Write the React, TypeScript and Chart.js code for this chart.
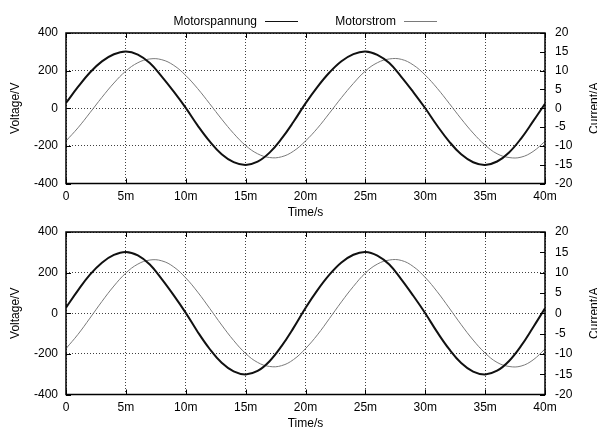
import { useEffect, useRef } from 'react';
import { Chart, registerables } from 'chart.js';

Chart.register(...registerables);

const TIME_MS = [0, 1, 2, 3, 4, 5, 6, 7, 8, 9, 10, 11, 12, 13, 14, 15, 16, 17, 18, 19, 20, 21, 22, 23, 24, 25, 26, 27, 28, 29, 30, 31, 32, 33, 34, 35, 36, 37, 38, 39, 40];

const VOLTAGE_V = [28, 113, 190, 249, 287, 302, 285, 240, 168, 88, 2, -92, -176, -244, -286, -301, -284, -236, -162, -72, 26, 114, 190, 250, 288, 302, 284, 240, 167, 86, 0, -93, -177, -245, -287, -301, -283, -235, -161, -70, 24];

const CURRENT_A = [-8.7, -5.2, -1.2, 2.9, 6.7, 9.9, 12.1, 13.1, 12.9, 11.4, 8.7, 5.2, 1.2, -2.9, -6.7, -9.9, -12.1, -13.1, -12.9, -11.4, -8.7, -5.3, -1.3, 2.8, 6.6, 9.9, 12.1, 13.1, 13.0, 11.5, 8.8, 5.3, 1.3, -2.8, -6.6, -9.8, -12.1, -13.1, -13.0, -11.5, -8.8];

const X_TICK_LABELS = ['0', '5m', '10m', '15m', '20m', '25m', '30m', '35m', '40m'];
const SERIES_NAMES = ['Motorspannung', 'Motorstrom'];
const SERIES_COLORS = ['#111111', '#7a7a7a'];
const X_TITLE = 'Time/s';
const Y_TITLE = 'Voltage/V';
const Y2_TITLE = 'Current/A';

const FONT = '"Liberation Sans", Arial, Helvetica, sans-serif';
const W = 597;
const H_TOP = 224;
const H_BOT = 214;
const BOT_OFFSET = 214;

function decorPlugin(showLegend: boolean) {
  return {
    id: 'decor' + (showLegend ? 'L' : ''),
    afterDraw(chart: any) {
      const { ctx, chartArea: a, scales } = chart;
      ctx.save();
      const px = (v: number) => Math.round(v) + 0.5;
      ctx.strokeStyle = '#000';
      ctx.lineWidth = 1;
      ctx.beginPath();
      scales.x.ticks.forEach((t: any) => {
        const x = px(scales.x.getPixelForValue(t.value));
        ctx.moveTo(x, a.bottom);
        ctx.lineTo(x, a.bottom - 5);
        ctx.moveTo(x, a.top);
        ctx.lineTo(x, a.top + 5);
      });
      scales.y.ticks.forEach((t: any) => {
        const y = px(scales.y.getPixelForValue(t.value));
        ctx.moveTo(a.left, y);
        ctx.lineTo(a.left + 5, y);
      });
      scales.y2.ticks.forEach((t: any) => {
        const y = px(scales.y2.getPixelForValue(t.value));
        ctx.moveTo(a.right, y);
        ctx.lineTo(a.right - 5, y);
      });
      ctx.stroke();
      ctx.lineWidth = 1.5;
      ctx.strokeRect(a.left, a.top, a.right - a.left, a.bottom - a.top);

      ctx.fillStyle = '#000';
      ctx.font = '12px ' + FONT;
      ctx.textAlign = 'center';
      ctx.textBaseline = 'middle';
      ctx.fillText(X_TITLE, (a.left + a.right) / 2, a.bottom + 29.5);
      const cy = (a.top + a.bottom) / 2;
      ctx.save();
      ctx.translate(16, cy);
      ctx.rotate(-Math.PI / 2);
      ctx.fillText(Y_TITLE, 0, 0);
      ctx.restore();
      ctx.save();
      ctx.translate(595, cy);
      ctx.rotate(-Math.PI / 2);
      ctx.fillText(Y2_TITLE, 0, 0);
      ctx.restore();

      if (showLegend) {
        const entries = [
          { textRight: 257, lineFrom: 265, lineTo: 298 },
          { textRight: 396, lineFrom: 404, lineTo: 437 },
        ];
        ctx.textAlign = 'right';
        entries.forEach((e, i) => {
          ctx.fillStyle = '#000';
          ctx.fillText(chart.data.datasets[i].label, e.textRight, 21.5);
          ctx.strokeStyle = chart.data.datasets[i].borderColor;
          ctx.lineWidth = 1;
          ctx.beginPath();
          ctx.moveTo(e.lineFrom, 21.5);
          ctx.lineTo(e.lineTo, 21.5);
          ctx.stroke();
        });
      }
      ctx.restore();
    },
  };
}

function makeChart(canvas: HTMLCanvasElement, padTop: number, xHeight: number, showLegend: boolean) {
  const gridColor = 'rgba(0,0,0,0.75)';
  return new Chart(canvas, {
    type: 'line',
    data: {
      datasets: [
        {
          label: SERIES_NAMES[0],
          data: TIME_MS.map((t, i) => ({ x: t, y: VOLTAGE_V[i] })),
          borderColor: SERIES_COLORS[0],
          borderWidth: 2,
          yAxisID: 'y',
          pointRadius: 0,
          tension: 0.4,
        },
        {
          label: SERIES_NAMES[1],
          data: TIME_MS.map((t, i) => ({ x: t, y: CURRENT_A[i] })),
          borderColor: SERIES_COLORS[1],
          borderWidth: 1,
          yAxisID: 'y2',
          pointRadius: 0,
          tension: 0.4,
        },
      ],
    },
    options: {
      responsive: false,
      animation: false,
      events: [],
      layout: { padding: { top: padTop, left: 0, right: 0, bottom: 0 } },
      plugins: { legend: { display: false }, tooltip: { enabled: false }, title: { display: false } },
      scales: {
        x: {
          type: 'linear',
          min: 0,
          max: 40,
          afterFit: (s: any) => { s.height = xHeight; },
          ticks: {
            stepSize: 5,
            padding: 6,
            autoSkip: false,
            maxRotation: 0,
            color: '#000',
            font: { family: FONT, size: 12 },
            callback: (v: any) => X_TICK_LABELS[Math.round(Number(v) / 5)],
          },
          grid: { color: gridColor, lineWidth: 1, drawTicks: false },
          border: { display: false, dash: [1, 2] },
        },
        y: {
          position: 'left',
          min: -400,
          max: 400,
          afterFit: (s: any) => { s.width = 66; },
          ticks: { stepSize: 200, padding: 8, color: '#000', font: { family: FONT, size: 12 } },
          grid: { color: gridColor, lineWidth: 1, drawTicks: false },
          border: { display: false, dash: [1, 2] },
        },
        y2: {
          position: 'right',
          min: -20,
          max: 20,
          afterFit: (s: any) => { s.width = W - 545; },
          ticks: { stepSize: 5, padding: 10, color: '#000', font: { family: FONT, size: 12 } },
          grid: { drawOnChartArea: false, drawTicks: false },
          border: { display: false },
        },
      },
    } as any,
    plugins: [decorPlugin(showLegend)],
  });
}

export default function App() {
  const topRef = useRef<HTMLCanvasElement>(null);
  const botRef = useRef<HTMLCanvasElement>(null);

  useEffect(() => {
    const c1 = makeChart(topRef.current!, 33, H_TOP - 183.5, true);
    const c2 = makeChart(botRef.current!, 232 - BOT_OFFSET, H_BOT - (394.5 - BOT_OFFSET), false);
    return () => {
      c1.destroy();
      c2.destroy();
    };
  }, []);

  return (
    <div style={{ position: 'absolute', left: 0, top: 0, width: W, height: 428, background: '#fff', overflow: 'hidden' }}>
      <canvas ref={topRef} width={W} height={H_TOP} style={{ position: 'absolute', left: 0, top: 0, width: W, height: H_TOP }} />
      <canvas ref={botRef} width={W} height={H_BOT} style={{ position: 'absolute', left: 0, top: BOT_OFFSET, width: W, height: H_BOT }} />
    </div>
  );
}
